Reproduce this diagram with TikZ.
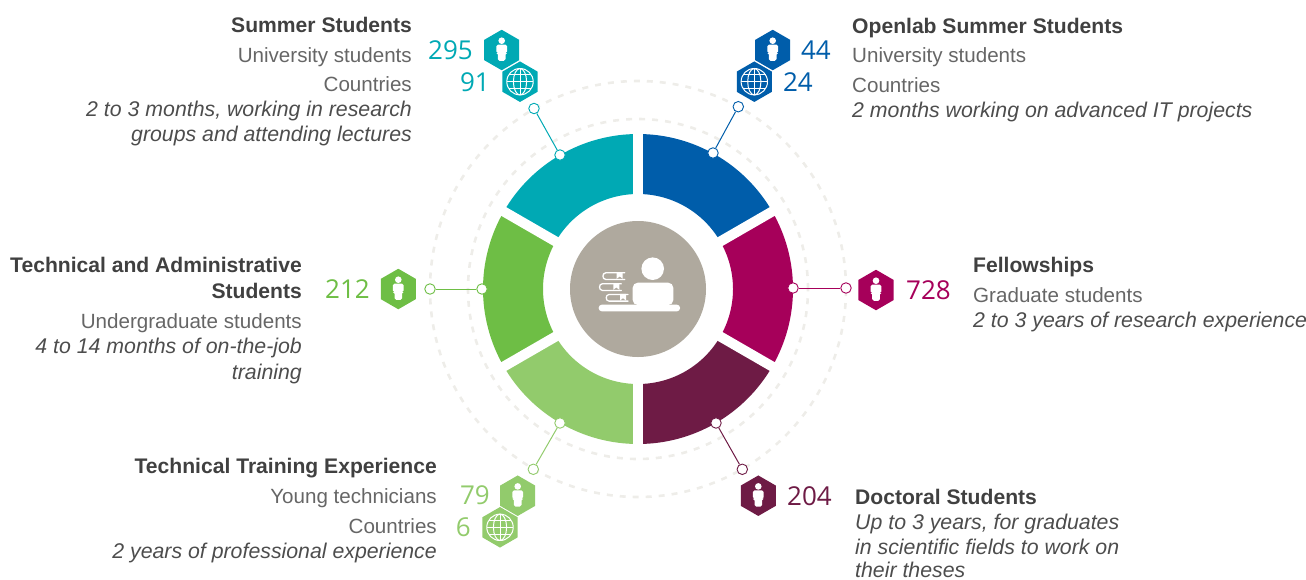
\documentclass[tikz,border=0pt]{standalone}
\usepackage{fontspec}
\setmainfont{Liberation Sans}
\newfontfamily\numfont{Open Sans}
\usetikzlibrary{shapes.geometric}
\definecolor{cTeal}{HTML}{00A9B4}
\definecolor{cBlue}{HTML}{005DAA}
\definecolor{cMag}{HTML}{A6005A}
\definecolor{cPlum}{HTML}{6E1B45}
\definecolor{cLight}{HTML}{92CB6C}
\definecolor{cGreen}{HTML}{6EBE45}
\definecolor{cGrey}{HTML}{AFA99E}
\definecolor{cDash}{HTML}{EEEDE9}
\definecolor{cHead}{HTML}{404040}
\definecolor{cReg}{HTML}{666666}
\definecolor{cIt}{HTML}{4D4D4D}
\tikzset{
  hexa/.style={regular polygon,regular polygon sides=6,shape border rotate=30,minimum size=40.5pt,inner sep=0pt,outer sep=0pt,fill=#1},
  endpt/.style={circle,draw=#1,fill=white,line width=0.9pt,minimum size=10.5pt,inner sep=0pt},
  link/.style={draw=#1,line width=1pt},
  num/.style={text=#1,font=\numfont\fontsize{26}{26}\selectfont,inner sep=0pt,anchor=base east},
  head/.style={text=cHead,font=\bfseries\fontsize{21.1}{21.1}\selectfont,inner sep=0pt},
  reg/.style={text=cReg,font=\fontsize{20.6}{20.6}\selectfont,inner sep=0pt},
  ital/.style={text=cIt,font=\itshape\fontsize{21.3}{21.3}\selectfont,inner sep=0pt},
  person/.pic={
    \fill[white] (0,-9.3) circle (3.3);
    \fill[white,rounded corners=1.6] (-5.4,-5.3) -- (5.4,-5.3) -- (5.4,3) -- (3.8,3) -- (3.8,10.8) -- (-3.8,10.8) -- (-3.8,3) -- (-5.4,3) -- cycle;
  },
  globe/.pic={
    \begin{scope}[white,line width=1pt]
      \draw (0,0) circle (13.2);
      \draw (0,-13.2) -- (0,13.2);
      \draw (-13.2,0) -- (13.2,0);
      \draw (0,0) ellipse (6.6 and 13.2);
      \draw (-11.3,-6.8) -- (11.3,-6.8);
      \draw (-11.3,6.8) -- (11.3,6.8);
    \end{scope}
  },
  bookic/.pic={
    \draw[white,line width=1.3pt,line cap=round] (23,-0.6) -- (4,-0.6) .. controls (0.3,-0.6) and (0.3,-7.2) .. (4,-7.2) -- (23,-7.2);
    \fill[white] (15,-7.8) -- (21,-7.8) -- (21,-1.2) -- (18,-3.6) -- (15,-1.2) -- cycle;
  }
}
\begin{document}
\begin{tikzpicture}[x=1pt,y=-1pt]
\useasboundingbox (0,0) rectangle (1306,579);
% dashed circles and ring
\begin{scope}[shift={(638,289)},y=1pt]
  \draw[cDash,line width=2.6pt,dash pattern=on 6pt off 7pt] (0,0) circle (208pt);
  \draw[cDash,line width=2.6pt,dash pattern=on 6pt off 7pt] (0,0) circle (170pt);
  \foreach \a/\b/\c in {30/90/cBlue,-30/30/cMag,-90/-30/cPlum,210/270/cLight,150/210/cGreen,90/150/cTeal}{
    \fill[\c] (\a:155pt) arc[start angle=\a,end angle=\b,radius=155pt] -- (\b:95pt) arc[start angle=\b,end angle=\a,radius=95pt] -- cycle;
  }
  \foreach \a in {90,30,-30,-90,-150,150}{
    \draw[white,line width=10pt] (\a:90pt) -- (\a:158pt);
  }
\end{scope}
% centre
\node[circle,fill=cGrey,minimum size=136pt,inner sep=0pt] (hub) at (638,289) {};
\fill[white,rounded corners=3pt] (598.7,304.7) rectangle (680,311.3);
\fill[white] (652.7,268.7) circle (11.3);
\fill[white,rounded corners=5pt] (632.7,305) -- (632.7,282.7) -- (673.3,282.7) -- (673.3,305) -- cycle;
\pic at (601.7,280) {bookic};
\pic at (598.3,291) {bookic};
\pic at (605,301.7) {bookic};
% markers
\node[endpt=cTeal] (dA) at (560,155) {};
\node[endpt=cTeal] (eA) at (534,108.5) {};
\node[endpt=cBlue] (dB) at (713,153) {};
\node[endpt=cBlue] (eB) at (738.3,106.7) {};
\node[endpt=cMag] (dC) at (793,288) {};
\node[endpt=cMag] (eC) at (846,288) {};
\node[endpt=cPlum] (dD) at (716,423) {};
\node[endpt=cPlum] (eD) at (742.3,469.3) {};
\node[endpt=cLight] (dE) at (560,423) {};
\node[endpt=cLight] (eE) at (533.3,469.3) {};
\node[endpt=cGreen] (dF) at (482,289) {};
\node[endpt=cGreen] (eF) at (430,289) {};
\draw[link=cTeal] (dA) -- (eA);
\draw[link=cBlue] (dB) -- (eB);
\draw[link=cMag] (dC) -- (eC);
\draw[link=cPlum] (dD) -- (eD);
\draw[link=cLight] (dE) -- (eE);
\draw[link=cGreen] (dF) -- (eF);
% hexagons
\node[hexa=cTeal] (hA1) at (501.7,50) {};
\node[hexa=cTeal] (hA2) at (520,81.7) {};
\node[hexa=cBlue] (hB1) at (772.7,50) {};
\node[hexa=cBlue] (hB2) at (754.3,81.7) {};
\node[hexa=cMag] (hC1) at (876,290) {};
\node[hexa=cPlum] (hD1) at (758.3,495.7) {};
\node[hexa=cLight] (hE1) at (517.7,495.7) {};
\node[hexa=cLight] (hE2) at (500,527.3) {};
\node[hexa=cGreen] (hF1) at (398.3,289) {};
\foreach \n in {hA1,hB1,hC1,hD1,hE1,hF1}{\pic at (\n) {person};}
\foreach \n in {hA2,hB2,hE2}{\pic at (\n) {globe};}
% numbers
\node[num=cTeal] (nA1) at (473,59) {295};
\node[num=cTeal] (nA2) at (490,91) {91};
\node[num=cBlue] (nB1) at (831,59) {44};
\node[num=cBlue] (nB2) at (813,91) {24};
\node[num=cMag] (nC1) at (951,299) {728};
\node[num=cPlum] (nD1) at (832,505) {204};
\node[num=cLight] (nE1) at (490,504) {79};
\node[num=cLight] (nE2) at (471,536) {6};
\node[num=cGreen] (nF1) at (370,298) {212};
% Summer
\node[head,anchor=base east] (tA1) at (412,32) {Summer Students};
\node[reg,anchor=base east] (tA2) at (412,62) {University students};
\node[reg,anchor=base east] (tA3) at (412,91) {Countries};
\node[ital,anchor=base east] (tA4) at (412,116) {2 to 3 months, working in research};
\node[ital,anchor=base east] (tA5) at (412,141) {groups and attending lectures};
% Openlab
\node[head,anchor=base west] (tB1) at (852,33) {Openlab Summer Students};
\node[reg,anchor=base west] (tB2) at (852,62) {University students};
\node[reg,anchor=base west] (tB3) at (852,92) {Countries};
\node[ital,anchor=base west] (tB4) at (852,117) {2 months working on advanced IT projects};
% Fellowships
\node[head,anchor=base west] (tC1) at (973,272) {Fellowships};
\node[reg,anchor=base west] (tC2) at (973,302) {Graduate students};
\node[ital,anchor=base west] (tC3) at (973,327) {2 to 3 years of research experience};
% Doctoral
\node[head,anchor=base west] (tD1) at (855,504) {Doctoral Students};
\node[ital,anchor=base west] (tD2) at (855,529) {Up to 3 years, for graduates};
\node[ital,anchor=base west] (tD3) at (855,554) {in scientific fields to work on};
\node[ital,anchor=base west] (tD4) at (855,577) {their theses};
% Training
\node[head,anchor=base east] (tE1) at (437,473) {Technical Training Experience};
\node[reg,anchor=base east] (tE2) at (437,503) {Young technicians};
\node[reg,anchor=base east] (tE3) at (437,533) {Countries};
\node[ital,anchor=base east] (tE4) at (437,558) {2 years of professional experience};
% Admin
\node[head,anchor=base east] (tF1) at (302,272) {Technical and Administrative};
\node[head,anchor=base east] (tF2) at (302,298) {Students};
\node[reg,anchor=base east] (tF3) at (302,328) {Undergraduate students};
\node[ital,anchor=base east] (tF4) at (302,353) {4 to 14 months of on-the-job};
\node[ital,anchor=base east] (tF5) at (302,379) {training};
\end{tikzpicture}
\end{document}
